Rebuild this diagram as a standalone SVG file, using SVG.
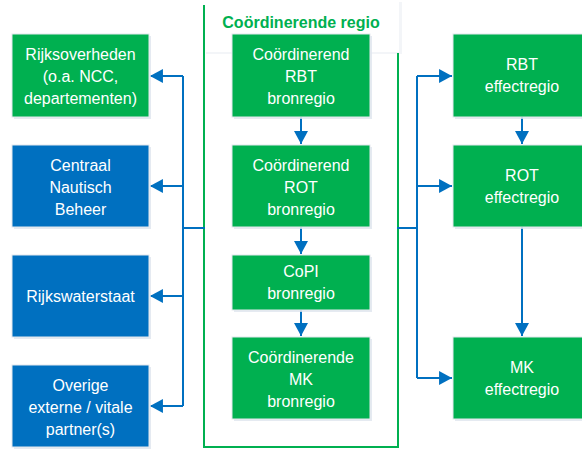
<svg xmlns="http://www.w3.org/2000/svg" width="582" height="450" viewBox="0 0 582 450">
<defs>
<style>
.g{fill:#00B050;stroke:#e4e8ee;stroke-width:1}
.b{fill:#0070C0;stroke:#e4e8ee;stroke-width:1}
.t{fill:#ffffff;font-family:"Liberation Sans",Arial,sans-serif;font-size:16px;text-anchor:middle}
.c{fill:none;stroke:#0070C0;stroke-width:2}
.sh{fill:#dfe5ee;opacity:0.8}
</style>
<marker id="ah" markerUnits="userSpaceOnUse" markerWidth="14" markerHeight="14" viewBox="0 0 12 13" refX="12" refY="6.5" orient="auto">
<path d="M0,0 L12,6.5 L0,13 Z" fill="#0070C0"/>
</marker>
</defs>
<rect width="582" height="450" fill="#ffffff"/>

<g id="container">
<rect x="206" y="2" width="196" height="52" fill="#f3f5f8"/>
<rect x="205" y="0" width="194" height="52" fill="#ffffff"/>
<path d="M204,5 V447 H398 V53" fill="none" stroke="#00B050" stroke-width="2"/>
<text x="301" y="28" font-family="'Liberation Sans',Arial,sans-serif" font-size="16" font-weight="bold" fill="#00B050" text-anchor="middle">Coördinerende regio</text>
</g>

<g id="connectors">
<path class="c" d="M205,228 H183"/>
<path class="c" d="M183,76 V406"/>
<path class="c" d="M183,76 H150" marker-end="url(#ah)"/>
<path class="c" d="M183,186 H150" marker-end="url(#ah)"/>
<path class="c" d="M183,296 H150" marker-end="url(#ah)"/>
<path class="c" d="M183,406 H150" marker-end="url(#ah)"/>
<path class="c" d="M397,228 H417"/>
<path class="c" d="M417,76 V378"/>
<path class="c" d="M417,76 H452" marker-end="url(#ah)"/>
<path class="c" d="M417,186 H452" marker-end="url(#ah)"/>
<path class="c" d="M417,378 H452" marker-end="url(#ah)"/>
<path class="c" d="M301,117 V144" marker-end="url(#ah)"/>
<path class="c" d="M301,227 V254" marker-end="url(#ah)"/>
<path class="c" d="M301,310 V336" marker-end="url(#ah)"/>
<path class="c" d="M522,117 V144" marker-end="url(#ah)"/>
<path class="c" d="M522,227 V336" marker-end="url(#ah)"/>
</g>

<g id="rijksoverheden">
<rect class="sh" x="14" y="36" width="137" height="83"/>
<rect class="g" x="12" y="34" width="137" height="83"/>
<text class="t" x="80.5" y="60">Rijksoverheden</text>
<text class="t" x="80.5" y="82">(o.a. NCC,</text>
<text class="t" x="80.5" y="104">departementen)</text>
</g>
<g id="cnb">
<rect class="sh" x="14" y="147" width="137" height="82"/>
<rect class="b" x="12" y="145" width="137" height="82"/>
<text class="t" x="80.5" y="171">Centraal</text>
<text class="t" x="80.5" y="193">Nautisch</text>
<text class="t" x="80.5" y="215">Beheer</text>
</g>
<g id="rws">
<rect class="sh" x="14" y="257" width="137" height="82"/>
<rect class="b" x="12" y="255" width="137" height="82"/>
<text class="t" x="80.5" y="302">Rijkswaterstaat</text>
</g>
<g id="overige">
<rect class="sh" x="14" y="367" width="137" height="82"/>
<rect class="b" x="12" y="365" width="137" height="82"/>
<text class="t" x="80.5" y="391">Overige</text>
<text class="t" x="80.5" y="413">externe / vitale</text>
<text class="t" x="80.5" y="435">partner(s)</text>
</g>

<g id="rbt-bron">
<rect class="sh" x="234" y="36" width="138" height="83"/>
<rect class="g" x="232" y="34" width="138" height="83"/>
<text class="t" x="301" y="60">Coördinerend</text>
<text class="t" x="301" y="82">RBT</text>
<text class="t" x="301" y="104">bronregio</text>
</g>
<g id="rot-bron">
<rect class="sh" x="234" y="147" width="138" height="82"/>
<rect class="g" x="232" y="145" width="138" height="82"/>
<text class="t" x="301" y="171">Coördinerend</text>
<text class="t" x="301" y="193">ROT</text>
<text class="t" x="301" y="215">bronregio</text>
</g>
<g id="copi-bron">
<rect class="sh" x="234" y="257" width="138" height="55"/>
<rect class="g" x="232" y="255" width="138" height="55"/>
<text class="t" x="301" y="277">CoPI</text>
<text class="t" x="301" y="299">bronregio</text>
</g>
<g id="mk-bron">
<rect class="sh" x="234" y="339" width="138" height="82"/>
<rect class="g" x="232" y="337" width="138" height="82"/>
<text class="t" x="301" y="363">Coördinerende</text>
<text class="t" x="301" y="385">MK</text>
<text class="t" x="301" y="407">bronregio</text>
</g>

<g id="rbt-effect">
<rect class="sh" x="455" y="36" width="137" height="83"/>
<rect class="g" x="453" y="34" width="137" height="83"/>
<text class="t" x="522" y="70">RBT</text>
<text class="t" x="522" y="92">effectregio</text>
</g>
<g id="rot-effect">
<rect class="sh" x="455" y="147" width="137" height="82"/>
<rect class="g" x="453" y="145" width="137" height="82"/>
<text class="t" x="522" y="181">ROT</text>
<text class="t" x="522" y="203">effectregio</text>
</g>
<g id="mk-effect">
<rect class="sh" x="455" y="339" width="137" height="82"/>
<rect class="g" x="453" y="337" width="137" height="82"/>
<text class="t" x="522" y="373">MK</text>
<text class="t" x="522" y="395">effectregio</text>
</g>
</svg>
